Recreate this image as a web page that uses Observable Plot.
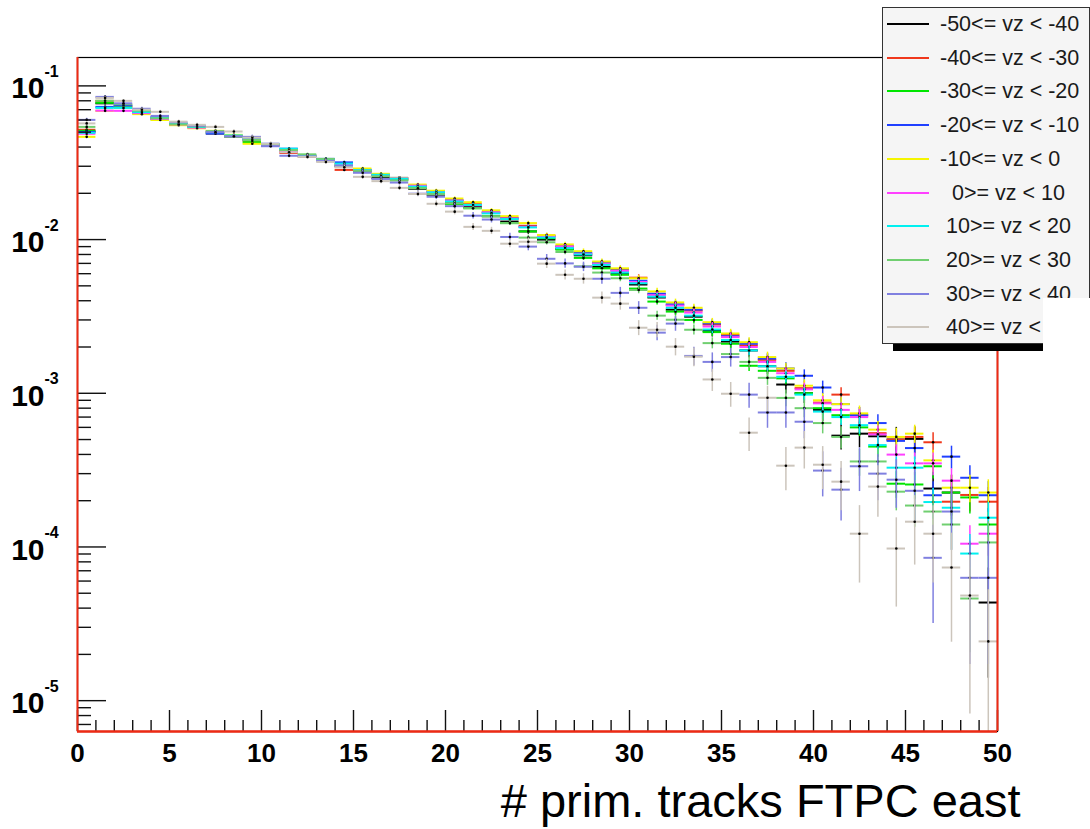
<!DOCTYPE html>
<html><head><meta charset="utf-8">
<script src="https://cdn.jsdelivr.net/npm/d3@7"></script>
<script src="https://cdn.jsdelivr.net/npm/@observablehq/plot@0.6"></script>
<style>
body{margin:0;background:#fff;}
#wrap{position:relative;width:1090px;height:829px;overflow:hidden;font-family:"Liberation Sans",Arial,Helvetica,sans-serif;}
.abs{position:absolute;}
.ltxt{position:absolute;font-size:21.5px;line-height:1;white-space:pre;color:#1a1a1a;transform:translateY(-50%);}
</style></head>
<body><div id="wrap"></div>
<script>
// ---- data ----
const binLow = [0,1,2,3,4,5,6,7,8,9,10,11,12,13,14,15,16,17,18,19,20,21,22,23,24,25,26,27,28,29,30,31,32,33,34,35,36,37,38,39,40,41,42,43,44,45,46,47,48,49];
const labels = ["-50<= vz < -40","-40<= vz < -30","-30<= vz < -20","-20<= vz < -10","-10<= vz < 0","  0>= vz < 10"," 10>= vz < 20"," 20>= vz < 30"," 30>= vz < 40"," 40>= vz < 50"];
const colors = ["#000000","#f0381c","#00e600","#2040ff","#f5f500","#ff40ff","#00f0f0","#70cf70","#8080e0","#ccc5bc"];
const entries = [50000,90000,100000,90000,100000,100000,100000,70000,30000,30000];

const vzM50 = [0.0505,0.0770,0.0745,0.0680,0.0612,0.0560,0.0540,0.0490,0.0470,0.0448,
 0.0410,0.0380,0.0349,0.0329,0.0300,0.0276,0.0252,0.0246,0.0214,0.0196,
 0.0172,0.0163,0.0142,0.0131,0.0113,0.0100,0.00870,0.00790,0.00665,0.00600,
 0.00510,0.00420,0.00350,0.00315,0.00255,0.00217,0.00190,0.00150,0.00114,0.00100,
 0.00078,0.00053,0.000546,0.000525,0.000500,0.000505,0.000240,0.000226,null,0.0000435];
const vzM40 = [0.0518,0.0799,0.0735,0.0680,0.0625,0.0560,0.0548,0.0505,0.0471,0.0440,
 0.0415,0.0366,0.0345,0.0329,0.0284,0.0284,0.0262,0.0250,0.0223,0.0205,
 0.0180,0.0170,0.0150,0.0138,0.0123,0.0106,0.00905,0.00810,0.00700,0.00640,
 0.00565,0.00440,0.00375,0.00345,0.00280,0.00240,0.00205,0.00165,0.00140,0.00108,
 0.00087,0.00098,0.00072,0.00055,0.00050,0.00052,0.00048,0.000197,0.000218,0.000197];
const vzM30 = [0.0510,0.0776,0.0730,0.0672,0.0605,0.0570,0.0538,0.0498,0.0468,0.0430,
 0.0410,0.0380,0.0356,0.0332,0.0308,0.0281,0.0262,0.0245,0.0218,0.0198,
 0.0170,0.0160,0.0142,0.0128,0.0113,0.0102,0.00860,0.00760,0.00650,0.00590,
 0.00480,0.00395,0.00340,0.00300,0.00250,0.00210,0.00151,0.00140,0.00125,0.00100,
 0.00080,0.00072,0.00060,0.00045,0.000258,0.000255,0.000335,0.000226,0.000210,0.000140];
const vzM20 = [0.0502,0.0730,0.0745,0.0670,0.0625,0.0565,0.0545,0.0490,0.0475,0.0450,
 0.0420,0.0390,0.0352,0.0335,0.0318,0.0285,0.0265,0.0252,0.0225,0.0206,
 0.0180,0.0168,0.0150,0.0137,0.0121,0.0105,0.00900,0.00820,0.00710,0.00630,
 0.00540,0.00445,0.00380,0.00350,0.00285,0.00235,0.00210,0.00168,0.00145,0.00130,
 0.00109,0.00085,0.00072,0.00064,0.00049,0.00044,0.000217,0.000387,0.000282,0.000217];
const vzM10 = [0.0466,0.0688,0.0720,0.0655,0.0600,0.0555,0.0530,0.0510,0.0480,0.0420,
 0.0412,0.0382,0.0350,0.0328,0.0310,0.0290,0.0268,0.0252,0.0228,0.0208,
 0.0185,0.0175,0.0155,0.0142,0.0128,0.0107,0.00930,0.00840,0.00720,0.00650,
 0.00560,0.00460,0.00390,0.00360,0.00290,0.00245,0.00215,0.00172,0.00145,0.00112,
 0.00090,0.00085,0.00074,0.00058,0.00052,0.000546,0.000366,0.000243,0.000243,0.000226];
const vzP0 = [0.0488,0.0690,0.0688,0.0665,0.0610,0.0562,0.0535,0.0505,0.0470,0.0445,
 0.0408,0.0375,0.0352,0.0330,0.0305,0.0282,0.0262,0.0250,0.0224,0.0203,
 0.0179,0.0167,0.0150,0.0137,0.0121,0.0104,0.00900,0.00805,0.00695,0.00625,
 0.00530,0.00435,0.00372,0.00335,0.00272,0.00232,0.00200,0.00160,0.00135,0.00106,
 0.00086,0.00078,0.00070,0.00054,0.000399,0.000350,0.000350,0.000270,0.000105,0.000122];
const vzP10 = [0.0495,0.0719,0.0719,0.0675,0.0620,0.0568,0.0540,0.0500,0.0476,0.0447,
 0.0418,0.0390,0.0350,0.0332,0.0312,0.0283,0.0264,0.0249,0.0221,0.0203,
 0.0177,0.0168,0.0148,0.0136,0.0120,0.0103,0.00880,0.00800,0.00685,0.00610,
 0.00520,0.00425,0.00360,0.00320,0.00260,0.00222,0.00190,0.00150,0.00128,0.00098,
 0.00076,0.00070,0.00062,0.00046,0.000328,0.000328,0.000196,0.000180,0.0000906,0.000155];
const vzP20 = [0.0541,0.0800,0.0760,0.0690,0.0615,0.0562,0.0545,0.0508,0.0470,0.0445,
 0.0415,0.0382,0.0358,0.0335,0.0300,0.0280,0.0258,0.0242,0.0216,0.0198,
 0.0172,0.0160,0.0142,0.0128,0.0103,0.00960,0.00830,0.00670,0.00610,0.00560,
 0.00470,0.00320,0.00301,0.00259,0.00212,0.00180,0.00160,0.00126,0.000933,0.00080,
 0.00064,0.00052,0.00036,0.00036,0.000229,0.000186,0.000170,0.000140,0.0000462,0.000107];
const vzP30 = [0.0601,0.0848,0.0770,0.0710,0.0638,0.0580,0.0550,0.0500,0.0470,0.0466,
 0.0405,0.0351,0.0348,0.0325,0.0302,0.0272,0.0248,0.0235,0.0199,0.0190,
 0.0165,0.0143,0.0135,0.0104,0.00900,0.00750,0.00700,0.00666,0.00556,0.00450,
 0.00360,0.00248,0.00284,0.00175,0.00160,0.00172,0.00098,0.00075,0.00075,0.000653,
 0.000314,0.000236,0.000335,0.000300,0.000274,0.000232,0.0000850,0.000170,0.0000630,0.0000630];
const vzP40 = [0.0570,0.0835,0.0799,0.0700,0.0678,0.0585,0.0558,0.0541,0.0505,0.0460,
 0.0420,0.0370,0.0345,0.0320,0.0295,0.0256,0.0240,0.0217,0.0198,0.0171,
 0.0152,0.0121,0.0114,0.0094,0.00968,0.00697,0.00590,0.00556,0.00419,0.00383,
 0.00267,0.00259,0.00201,0.00173,0.00123,0.000993,0.000554,0.000935,0.000338,0.000443,
 0.000343,0.000266,0.000122,0.000247,0.0000977,0.000146,0.000122,0.0000735,0.0000483,0.0000243];

const seriesValues = [vzM50,vzM40,vzM30,vzM20,vzM10,vzP0,vzP10,vzP20,vzP30,vzP40];

const xMajorTicks = [0,5,10,15,20,25,30,35,40,45,50];
const xMinorTicks = [1,2,3,4,6,7,8,9,11,12,13,14,16,17,18,19,21,22,23,24,26,27,28,29,31,32,33,34,36,37,38,39,41,42,43,44,46,47,48,49];
const yDecades = [1e-5,1e-4,1e-3,1e-2,1e-1];
const yExpLabels = ["-5","-4","-3","-2","-1"];
const yMinorMult = [2,3,4,5,6,7,8,9];
const xTitle = "# prim. tracks FTPC east";

// ---- layout ----
const W = 1090, H = 829;
const mL = 77, mR = 93, mT = 57, mB = 98;
const frameW = W - mL - mR, frameH = H - mT - mB;
const yMin = 6.3e-6, yMax = 0.153;
const frameRed = "#ee2a14";

const yMinorTicks = [];
for (const d of [1e-6, ...yDecades]) for (const m of yMinorMult) { const v = d*m; if (v > yMin && v < yMax) yMinorTicks.push(v); }

const marks = [];
seriesValues.forEach((vals, s) => {
  const rows = [];
  vals.forEach((v, k) => {
    if (v == null) return;
    const e = Math.sqrt(v / entries[s]);
    rows.push({x1: binLow[k], x2: binLow[k] + 1, xc: binLow[k] + 0.5, v, lo: Math.max(v - e, 1e-9), hi: v + e});
  });
  marks.push(Plot.ruleY(rows, {y: "v", x1: "x1", x2: "x2", stroke: colors[s], strokeWidth: 2, clip: true}));
  marks.push(Plot.ruleX(rows, {x: "xc", y1: "lo", y2: "hi", stroke: colors[s], strokeWidth: 1.5, clip: true}));
  marks.push(Plot.dot(rows, {x: "xc", y: "v", r: 1.3, fill: "#000", stroke: null, clip: true}));
});

const chart = Plot.plot({
  width: W, height: H,
  marginLeft: mL, marginRight: mR, marginTop: mT, marginBottom: mB,
  style: {background: "white", fontFamily: "'Liberation Sans', Arial, Helvetica, sans-serif", overflow: "visible"},
  x: {domain: [0, 50], axis: null},
  y: {type: "log", domain: [yMin, yMax], axis: null},
  marks: [
    ...marks,
    // ticks (inside frame)
    Plot.tickY(yMinorTicks, {y: d => d, stroke: "#111", strokeWidth: 1.4, insetRight: frameW - 14}),
    Plot.tickY(yDecades, {y: d => d, stroke: "#111", strokeWidth: 1.4, insetRight: frameW - 29}),
    Plot.tickX(xMinorTicks, {x: d => d, stroke: "#111", strokeWidth: 1.4, insetTop: frameH - 11}),
    Plot.tickX(xMajorTicks, {x: d => d, stroke: "#111", strokeWidth: 1.4, insetTop: frameH - 21}),
    // frame
    Plot.frame({stroke: "#000", strokeWidth: 1.2}),
    Plot.ruleX([0, 50], {x: d => d, stroke: frameRed, strokeWidth: 2}),
    Plot.ruleY([yMin], {y: d => d, stroke: frameRed, strokeWidth: 2.5}),
    // axis labels
    Plot.text(yDecades, {y: d => d, text: () => "10", frameAnchor: "left", dx: -33, dy: 3, textAnchor: "end", lineAnchor: "middle", fontSize: 30, fontWeight: "bold"}),
    Plot.text(yDecades, {y: d => d, text: (d, i) => yExpLabels[i], frameAnchor: "left", dx: -33, dy: -14, textAnchor: "start", lineAnchor: "middle", fontSize: 16, fontWeight: "bold"}),
    Plot.text(xMajorTicks, {x: d => d, text: d => String(d), frameAnchor: "bottom", dy: 22, lineAnchor: "middle", fontSize: 26, fontWeight: "bold"}),
    Plot.text([xTitle], {text: d => d, frameAnchor: "bottom-right", dx: 23, dy: 85, textAnchor: "end", lineAnchor: "bottom", fontSize: 47})
  ]
});

const wrap = document.getElementById("wrap");
wrap.appendChild(chart);

// ---- legend (ROOT TLegend style) ----
const shadow = document.createElement("div");
shadow.className = "abs";
Object.assign(shadow.style, {left: "893px", top: "343px", width: "150px", height: "8px", background: "#000"});
wrap.appendChild(shadow);

const box = document.createElement("div");
box.className = "abs";
Object.assign(box.style, {left: "882px", top: "7px", width: "206px", height: "335px", background: "#f5f5f5", border: "1px solid #333"});
wrap.appendChild(box);

labels.forEach((lab, i) => {
  const yc = 24 + i * 33.7;
  const ln = document.createElement("div");
  ln.className = "abs";
  Object.assign(ln.style, {left: "887px", top: (yc - 1) + "px", width: "42px", height: "2px", background: colors[i]});
  wrap.appendChild(ln);
  const t = document.createElement("div");
  t.className = "ltxt";
  t.style.left = "940px";
  t.style.top = (yc + 1) + "px";
  t.textContent = lab;
  wrap.appendChild(t);
});

const patch = document.createElement("div");
patch.className = "abs";
Object.assign(patch.style, {left: "1043px", top: "298px", width: "47px", height: "55px", background: "#fff"});
wrap.appendChild(patch);
</script>
</body></html>
